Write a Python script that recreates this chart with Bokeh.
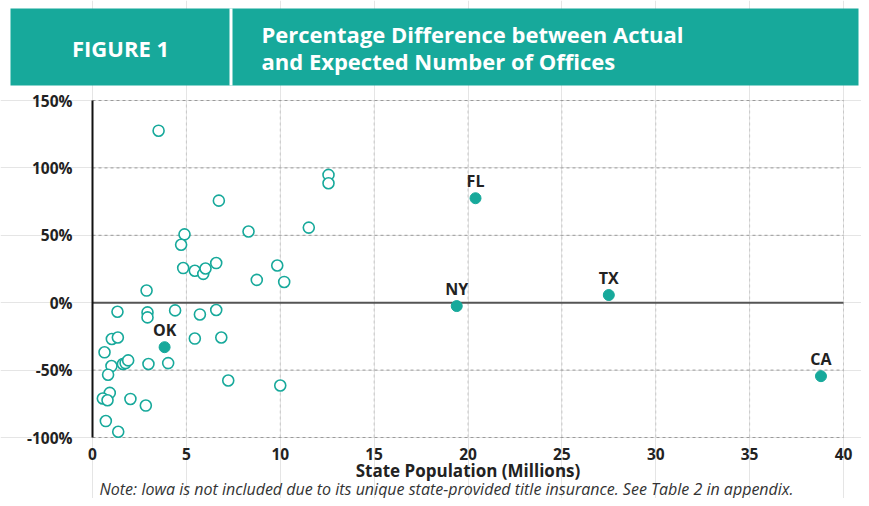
from bokeh.plotting import figure
from bokeh.models import Range1d, FixedTicker, ColumnDataSource, LinearAxis
from bokeh.core.properties import value
from bokeh.embed import file_html
from bokeh.resources import INLINE

TEAL = "#17a99b"
FONT = "Open Sans"

# Open circles: other states (population in millions, % difference)
pop_other = [3.52, 6.73, 4.9, 4.72, 8.31, 11.52, 12.57, 12.57, 4.83, 5.45,
             5.9, 6.02, 6.59, 8.75, 9.84, 10.21, 2.88, 1.33, 2.93, 2.93,
             4.4, 5.72, 6.59, 1.03, 1.35, 5.45, 6.86, 0.64, 1.01, 1.62,
             1.76, 1.9, 2.98, 4.03, 0.83, 0.92, 0.55, 0.80, 2.02, 2.84,
             0.71, 1.37, 7.23, 10.0]
pct_other = [127.6, 75.7, 50.7, 43.0, 52.8, 55.7, 94.8, 88.6, 25.7, 23.7,
             21.4, 25.4, 29.4, 16.9, 27.6, 15.4, 9.0, -6.7, -7.2, -10.9,
             -5.7, -8.7, -5.4, -26.9, -25.8, -26.6, -25.8, -36.8, -47.0, -45.5,
             -44.8, -42.8, -45.5, -44.8, -53.4, -66.9, -71.1, -72.4, -71.4, -76.3,
             -87.8, -95.7, -57.7, -61.4]

# Highlighted states
hl_states = ["FL", "NY", "TX", "CA", "OK"]
hl_pop = [20.4, 19.4, 27.5, 38.8, 3.84]
hl_pct = [77.5, -2.5, 5.7, -54.5, -33.0]

x_ticks = [0, 5, 10, 15, 20, 25, 30, 35, 40]
y_ticks = [-100, -50, 0, 50, 100, 150]
y_tick_labels = ["-100%", "-50%", "0%", "50%", "100%", "150%"]

title_tag = "FIGURE 1"
title_lines = ["Percentage Difference between Actual", "and Expected Number of Offices"]
x_title = "State Population (Millions)"
note = "Note: Iowa is not included due to its unique state-provided title insurance. See Table 2 in appendix."

W, H = 861, 498
OFF = 0  # page offset of the canvas

# layout: page pixel positions of the plotting area
PX0, PX40 = 92.0, 843.0      # x = 0 and x = 40
PY150, PYM100 = 100.0, 437.0  # y = 150 and y = -100
SX = (PX40 - PX0) / 40.0
SY = (PYM100 - PY150) / 250.0


def X(px):
    return (px - PX0) / SX


def Y(py):
    return 150.0 - (py - PY150) / SY


p = figure(width=W, height=H,
           x_range=Range1d(X(OFF), X(OFF + W)), y_range=Range1d(Y(OFF + H), Y(OFF)),
           toolbar_location=None, output_backend="svg", min_border=0,
           x_axis_location=None, y_axis_location=None)
p.outline_line_color = None
p.background_fill_color = "white"

# Header band
p.quad(left=[X(10)], right=[X(858)], top=[Y(8)], bottom=[Y(85)], color=TEAL, line_color=None)
p.segment(x0=[X(230.5)], y0=[Y(8)], x1=[X(230.5)], y1=[Y(85)], line_color="white", line_width=3)
p.text(x=[X(120)], y=[Y(47)], text=[title_tag], text_color="white",
       text_font=value(FONT), text_font_style="bold", text_font_size="22px",
       text_align="center", text_baseline="middle")
p.text(x=[X(261), X(261)], y=[Y(33), Y(60)], text=title_lines, text_color="white",
       text_font=value(FONT), text_font_style="bold", text_font_size="22px",
       text_align="left", text_baseline="middle")

# Grid lines (bounded to the plotting area)
ymin, ymax = y_ticks[0], y_ticks[-1]
xmin, xmax = x_ticks[0], x_ticks[-1]
vx = [t for t in x_ticks if t != 0]
p.segment(x0=vx, y0=[ymin] * len(vx), x1=vx, y1=[ymax] * len(vx),
          line_color="#c8c8c8", line_dash="3 3", line_width=1)
hy = [t for t in y_ticks if t != 0]
p.segment(x0=[xmin] * len(hy), y0=hy, x1=[xmax] * len(hy), y1=hy,
          line_color="#9a9a9a", line_dash="3 3", line_width=1)

# zero line
p.segment(x0=[xmin], y0=[0], x1=[xmax], y1=[0], line_color="#555555", line_width=2)

# Axes
xa = LinearAxis(fixed_location=ymin, ticker=FixedTicker(ticks=x_ticks), bounds=(xmin, xmax))
ya = LinearAxis(fixed_location=xmin, ticker=FixedTicker(ticks=y_ticks), bounds=(ymin, ymax))
ya.major_label_overrides = {t: l for t, l in zip(y_ticks, y_tick_labels)}
for ax in (xa, ya):
    ax.major_tick_line_color = None
    ax.minor_tick_line_color = None
    ax.major_label_text_font = FONT
    ax.major_label_text_font_style = "bold"
    ax.major_label_text_font_size = "15.5px"
    ax.major_label_text_color = "#222222"
xa.axis_line_color = None
xa.major_label_standoff = 4
xa.axis_label = x_title
xa.axis_label_text_font = FONT
xa.axis_label_text_font_style = "bold"
xa.axis_label_text_font_size = "17px"
xa.axis_label_text_color = "#222222"
xa.axis_label_standoff = -4
ya.axis_line_color = "#111111"
ya.axis_line_width = 2
ya.major_label_standoff = 14
p.add_layout(xa, "below")
p.add_layout(ya, "left")

# Points
src_o = ColumnDataSource(dict(x=pop_other, y=pct_other))
p.scatter("x", "y", source=src_o, size=11, fill_color="white",
          line_color=TEAL, line_width=1.6)

src_h = ColumnDataSource(dict(x=hl_pop, y=hl_pct, t=hl_states))
p.scatter("x", "y", source=src_h, size=11, fill_color=TEAL, line_color=TEAL)
p.text("x", "y", text="t", source=src_h, text_font=value(FONT), text_font_style="bold",
       text_font_size="16px", text_color="#222222", text_align="center",
       text_baseline="bottom", y_offset=-6)

# Note
p.text(x=[X(446)], y=[Y(488)], text=[note], text_color="#333333",
       text_font=value(FONT), text_font_style="italic", text_font_size="16px",
       text_align="center", text_baseline="middle")

open("out.html", "w").write(file_html(p, INLINE))
